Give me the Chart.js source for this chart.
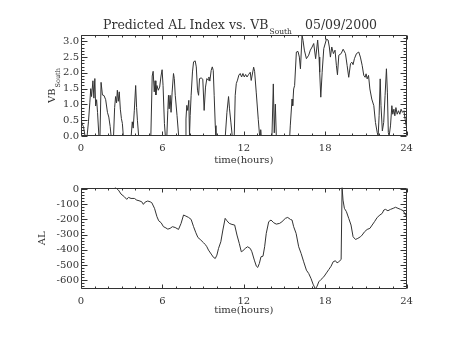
<!DOCTYPE html>
<html><head><meta charset="utf-8">
<script src="https://cdn.jsdelivr.net/npm/chart.js@4"></script>
<style>
html,body{margin:0;padding:0;background:#fff;width:454px;height:341px;overflow:hidden}
canvas{position:absolute;left:0}
#c1{top:0}#c2{top:170px}
</style></head><body>
<canvas id="c1" width="454" height="170"></canvas>
<canvas id="c2" width="454" height="171"></canvas>
<script>
const hourTicks=[0,6,12,18,24];
const vbTicks=[0,0.5,1,1.5,2,2.5,3];
const alTicks=[0,-100,-200,-300,-400,-500,-600];

const vbHours=[0.00,0.08,0.18,0.30,0.45,0.55,0.65,0.72,0.78,0.88,0.95,1.02,1.08,1.15,1.22,1.32,1.40,1.48,1.58,1.70,1.82,1.95,2.05,2.15,2.22,2.40,2.48,2.55,2.62,2.68,2.75,2.82,2.90,2.98,3.05,3.12,3.70,3.78,3.85,3.93,4.03,4.10,4.16,4.25,5.15,5.25,5.32,5.40,5.46,5.52,5.60,5.70,5.80,5.90,5.98,6.05,6.15,6.22,6.33,6.40,6.45,6.50,6.57,6.64,6.72,6.82,6.88,6.95,7.08,7.20,7.68,7.74,7.80,7.87,7.95,8.00,8.05,8.12,8.22,8.30,8.42,8.50,8.59,8.67,8.74,8.86,8.98,9.08,9.18,9.28,9.38,9.43,9.50,9.60,9.68,9.75,9.82,9.90,9.95,10.64,10.76,10.88,10.95,11.05,11.15,11.30,11.37,11.45,11.54,11.64,11.74,11.84,11.94,12.04,12.14,12.24,12.36,12.48,12.55,12.73,12.80,12.92,13.07,13.17,13.22,13.25,13.28,14.08,14.18,14.25,14.33,14.40,15.39,15.43,15.56,15.61,15.68,15.75,15.88,16.00,16.10,16.18,16.30,16.37,16.47,16.62,16.79,16.91,17.04,17.16,17.30,17.45,17.55,17.60,17.68,17.78,17.90,18.10,18.22,18.31,18.39,18.49,18.61,18.73,18.83,18.91,19.01,19.18,19.33,19.50,19.62,19.74,19.87,19.97,20.06,20.16,20.31,20.48,20.60,20.73,20.85,20.95,21.02,21.10,21.20,21.30,21.44,21.59,21.71,21.84,21.91,21.98,22.06,22.12,22.22,22.32,22.42,22.52,22.59,22.66,22.72,22.82,22.92,22.99,23.07,23.14,23.22,23.31,23.41,23.51,23.60,23.70,23.81,23.90,23.98];
const vbValues=[0.55,0.38,0.30,0.00,0.00,0.45,1.05,1.50,1.25,1.75,1.20,1.82,0.95,1.15,0.75,0.00,0.00,1.70,1.30,1.28,1.15,0.75,0.60,0.30,0.00,0.00,0.90,1.25,1.05,1.45,1.10,1.40,0.85,0.55,0.40,0.00,0.00,0.45,0.25,0.80,1.60,0.90,0.50,0.00,0.00,1.90,2.05,1.40,1.75,1.30,1.60,1.45,1.55,1.90,2.10,1.60,0.40,0.00,0.00,0.80,1.29,0.86,1.29,0.75,1.39,1.98,1.82,1.29,0.65,0.00,0.00,0.54,0.97,0.81,1.13,0.00,0.65,1.29,2.03,2.35,2.38,2.19,1.45,1.29,1.82,1.84,1.80,0.81,1.55,1.82,1.77,1.87,1.74,2.08,2.19,2.08,1.29,0.33,0.00,0.00,0.75,1.25,0.86,0.44,0.00,0.00,1.29,1.66,1.77,1.93,1.98,1.87,1.98,1.87,1.95,1.87,1.95,2.02,1.76,2.18,2.05,1.39,0.53,0.00,0.00,0.20,0.00,0.00,1.65,0.10,1.01,0.00,0.00,0.32,1.17,0.96,1.49,1.60,2.66,2.68,2.50,2.13,3.19,3.03,2.72,2.45,2.56,2.72,2.82,2.93,2.45,3.04,2.50,2.02,1.23,2.02,2.77,3.07,3.04,2.82,2.50,2.82,2.61,2.72,2.24,1.94,2.56,2.61,2.75,2.61,2.24,1.86,2.29,2.34,2.26,2.45,2.61,2.66,2.50,2.24,1.92,1.86,1.97,1.81,1.92,1.49,1.17,0.96,0.43,0.11,0.00,0.64,1.81,0.96,0.16,0.43,1.28,2.13,1.39,0.11,0.00,0.32,0.96,0.69,0.85,0.64,0.90,0.69,0.80,0.69,0.85,0.75,0.80,0.53,0.32];

const alHours=[2.48,2.76,2.95,3.20,3.37,3.50,3.69,3.94,4.11,4.28,4.48,4.60,4.73,4.92,5.10,5.22,5.42,5.60,5.73,5.91,6.08,6.20,6.40,6.57,6.74,6.94,7.19,7.38,7.56,7.73,7.93,8.12,8.30,8.47,8.62,8.79,9.04,9.16,9.28,9.40,9.60,9.77,9.90,10.02,10.14,10.31,10.46,10.63,10.76,10.93,11.13,11.33,11.50,11.67,11.82,11.94,12.11,12.28,12.48,12.60,12.78,12.93,13.03,13.15,13.27,13.42,13.54,13.66,13.84,14.01,14.21,14.40,14.65,14.82,15.07,15.24,15.44,15.56,15.68,15.86,16.05,16.23,16.42,16.62,16.79,16.96,17.11,17.28,17.41,17.53,17.70,17.90,18.10,18.27,18.44,18.59,18.76,18.88,19.00,19.18,19.25,19.32,19.42,19.57,19.74,19.91,20.06,20.24,20.41,20.61,20.73,20.91,21.10,21.30,21.47,21.64,21.84,22.04,22.21,22.33,22.45,22.63,22.82,23.02,23.19,23.37,23.56,23.76,23.93,24.00];
const alValues=[14,-7,-33,-51,-68,-55,-62,-62,-73,-77,-84,-101,-86,-79,-84,-90,-127,-182,-209,-222,-248,-253,-264,-259,-248,-253,-266,-226,-171,-178,-187,-200,-248,-288,-319,-332,-354,-365,-380,-402,-428,-450,-457,-435,-391,-347,-270,-193,-209,-226,-233,-237,-303,-358,-413,-406,-391,-380,-391,-413,-468,-508,-516,-490,-446,-442,-380,-292,-215,-204,-222,-231,-226,-215,-193,-187,-200,-204,-248,-292,-380,-424,-479,-534,-556,-589,-626,-658,-639,-611,-595,-578,-552,-530,-508,-479,-472,-486,-479,-464,10,-73,-127,-149,-193,-237,-314,-332,-325,-314,-303,-281,-266,-259,-237,-215,-187,-171,-160,-138,-134,-143,-134,-127,-120,-127,-134,-143,-171,-178];

const INK='#333';
const FAM='"DejaVu Serif", serif';

const frame={
  id:'frame',
  afterDraw(chart,args,o){
    const {ctx,chartArea:a,scales:{x,y}}=chart;
    ctx.save();
    ctx.strokeStyle=INK;ctx.lineWidth=1;
    const L=Math.round(a.left)+0.5,R=Math.round(a.right)-0.5,T=Math.round(a.top)+0.5,B=Math.round(a.bottom)-0.5;
    ctx.beginPath();
    ctx.rect(L,T,R-L,B-T);
    for(let h=x.min;h<=x.max+1e-9;h+=1){
      const px=Math.round(x.getPixelForValue(h))+0.5;
      const len=(Math.abs(h%6)<1e-6)?4:2;
      ctx.moveTo(px,B);ctx.lineTo(px,B-len);
      ctx.moveTo(px,T);ctx.lineTo(px,T+len);
    }
    const s0=Math.ceil(y.min/o.yMinor-1e-9)*o.yMinor;
    for(let v=s0;v<=y.max+1e-9;v+=o.yMinor){
      const q=v/o.yMajor;
      const major=Math.abs(q-Math.round(q))<1e-6;
      const len=major?6:3;
      const py=Math.round(y.getPixelForValue(v))+0.5;
      ctx.moveTo(L,py);ctx.lineTo(L+len,py);
      ctx.moveTo(R,py);ctx.lineTo(R-len,py);
    }
    ctx.stroke();
    if(o.titles){
      ctx.fillStyle=INK;
      ctx.textBaseline='alphabetic';ctx.textAlign='left';
      ctx.font='12.5px '+FAM;
      const t1='Predicted AL Index vs. VB';
      ctx.fillText(t1,103,29);
      const w1=ctx.measureText(t1).width;
      ctx.font='7.5px '+FAM;
      ctx.fillText('South',103+w1+1,33.5);
      ctx.font='12.5px '+FAM;
      ctx.fillText('05/09/2000',305,29);
      ctx.translate(55,103);ctx.rotate(-Math.PI/2);
      ctx.font='10px '+FAM;
      ctx.fillText('VB',0,0);
      const w2=ctx.measureText('VB').width;
      ctx.font='6.5px '+FAM;
      ctx.fillText('South',w2+1,4.5);
    }
    ctx.restore();
  }
};
Chart.register(frame);

function mk(id,hours,vals,yTicks,ymin,ymax,padTop,xH,xTitlePad,yTitle,fmt,frameOpts){
  return new Chart(document.getElementById(id),{
    type:'line',
    data:{datasets:[{data:hours.map((h,i)=>({x:h,y:vals[i]})),borderColor:INK,borderWidth:1,pointRadius:0,tension:0,fill:false}]},
    options:{
      responsive:false,animation:false,devicePixelRatio:1,
      layout:{padding:{left:0,right:47.5,top:padTop,bottom:0}},
      plugins:{legend:{display:false},tooltip:{enabled:false},frame:frameOpts},
      scales:{
        x:{type:'linear',min:0,max:24,
          afterBuildTicks(s){s.ticks=hourTicks.map(v=>({value:v}));},
          afterFit(s){s.height=xH;},
          grid:{display:false,drawTicks:false},border:{display:false},
          ticks:{padding:6,color:INK,font:{family:FAM,size:10},maxRotation:0,autoSkip:false},
          title:{display:true,text:'time(hours)',color:INK,font:{family:FAM,size:10},padding:{top:0,bottom:xTitlePad}}},
        y:{type:'linear',min:ymin,max:ymax,
          afterBuildTicks(s){s.ticks=yTicks.map(v=>({value:v}));},
          afterFit(s){s.width=81;},
          grid:{display:false,drawTicks:false},border:{display:false},
          ticks:{padding:2,color:INK,font:{family:FAM,size:10},callback:fmt},
          title:yTitle}
      }
    }
  });
}
mk('c1',vbHours,vbValues,vbTicks,0,3.2,35,34,4,{display:false},v=>v.toFixed(1),{yMinor:0.1,yMajor:0.5,titles:true});
mk('c2',alHours,alValues,alTicks,-658,10,17.5,52,25,{display:true,text:'AL',color:INK,font:{family:FAM,size:10},padding:{top:36,bottom:0}},v=>String(v),{yMinor:20,yMajor:100,titles:false});
</script>
</body></html>
